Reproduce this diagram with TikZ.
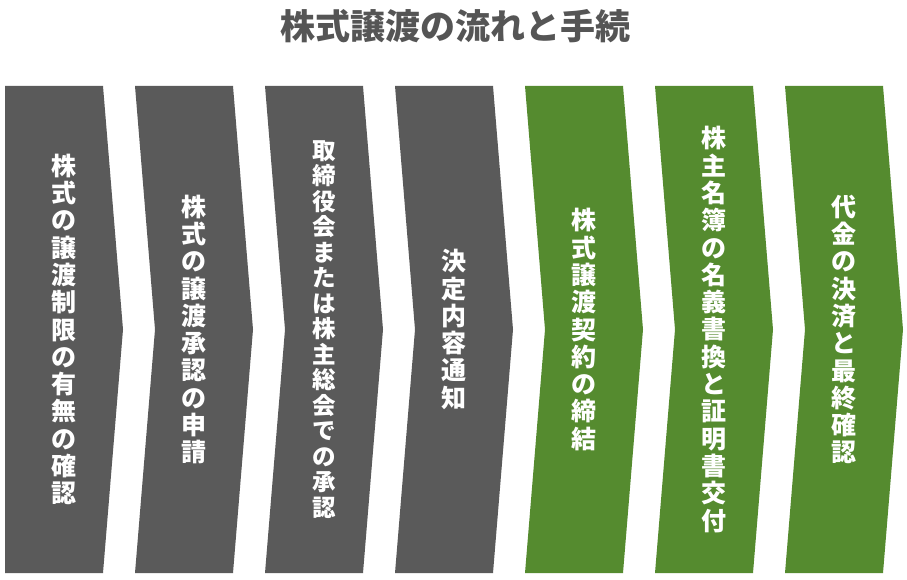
\documentclass[tikz,border=0pt]{standalone}
\usepackage{fontspec}
\newfontfamily\jpfont{Noto Sans CJK JP}
\definecolor{stepgray}{HTML}{5A5A5A}
\definecolor{stepgreen}{HTML}{558B2F}
\definecolor{titlegray}{HTML}{555555}
\begin{document}
\begin{tikzpicture}[x=1pt, y=-1pt,
    title/.style={text=titlegray, font=\jpfont\bfseries\fontsize{35}{40}\selectfont, inner sep=0pt},
    steptext/.style={text=white, align=center, inner sep=0pt}]
  \useasboundingbox (0,0) rectangle (907,580);
  \node [title] (title) at (455,26) {株式譲渡の流れと手続};
  \foreach \k/\col/\fs/\bs/\txt in {
      0/stepgray/25/27.3/{株\\式\\の\\譲\\渡\\制\\限\\の\\有\\無\\の\\確\\認},
      1/stepgray/25/27.3/{株\\式\\の\\譲\\渡\\承\\認\\の\\申\\請},
      2/stepgray/23.5/25.5/{取\\締\\役\\会\\ま\\た\\は\\株\\主\\総\\会\\で\\の\\承\\認},
      3/stepgray/25/27.3/{決\\定\\内\\容\\通\\知},
      4/stepgreen/25/27.3/{株\\式\\譲\\渡\\契\\約\\の\\締\\結},
      5/stepgreen/25/27.3/{株\\主\\名\\簿\\の\\名\\義\\書\\換\\と\\証\\明\\書\\交\\付},
      6/stepgreen/25/27.3/{代\\金\\の\\決\\済\\と\\最\\終\\確\\認}} {
    \pgfmathsetmacro\lx{5+130*\k}
    \pgfmathtruncatemacro\nd{\k==0 ? 0 : 20}
    % chevron
    \fill [\col] (\lx,86) -- ++(98,0) -- ++(20,243.5) -- ++(-20,243.5)
      -- ++(-98,0) -- ++(\nd,-243.5) -- cycle;
    \node [steptext, font=\jpfont\bfseries\fontsize{\fs}{\bs}\selectfont]
      (step\k) at (\lx+59,329.5) {\txt};
  }
\end{tikzpicture}
\end{document}
